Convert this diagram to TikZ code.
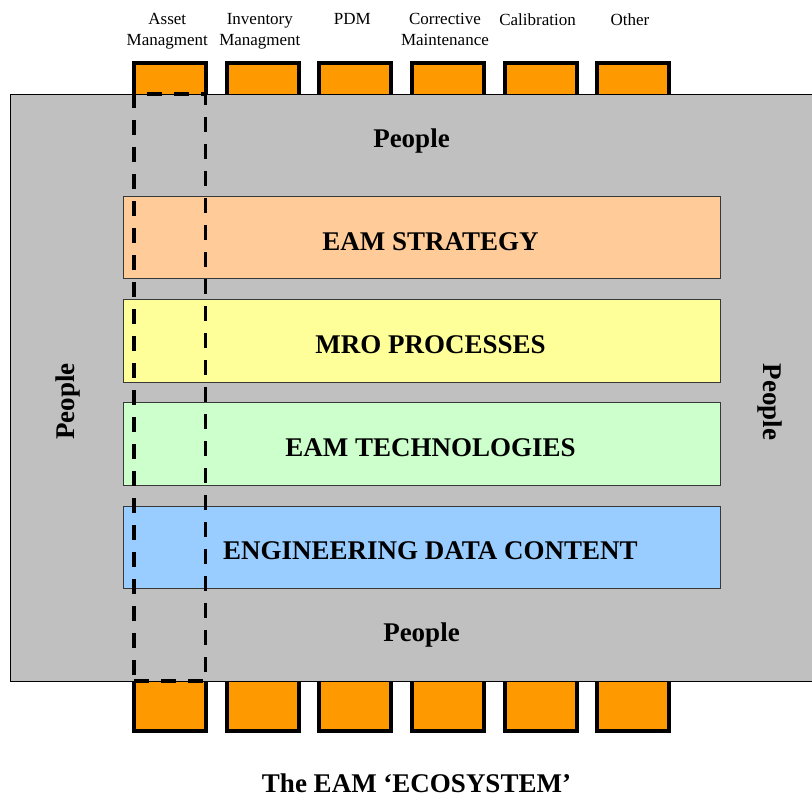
\documentclass[tikz,border=0pt]{standalone}
\usepackage{fontspec}
\setmainfont{Liberation Serif}
\definecolor{tabfill}{HTML}{FF9900}
\definecolor{fieldfill}{HTML}{C0C0C0}
\definecolor{stratfill}{HTML}{FFCC99}
\definecolor{mrofill}{HTML}{FFFF99}
\definecolor{techfill}{HTML}{CCFFCC}
\definecolor{datafill}{HTML}{99CCFF}
\begin{document}
\begin{tikzpicture}[x=1pt,y=-1pt,
  tab/.style={draw=black, line width=4pt, fill=tabfill, minimum width=72pt, inner sep=0pt},
  toptab/.style={tab, minimum height=37.3pt},
  bottab/.style={tab, minimum height=56pt},
  tablabel/.style={anchor=north, inner sep=0pt, align=center,
    font=\fontsize{17}{20.7}\selectfont},
  layer/.style={draw=black!78, line width=1.1pt, minimum width=597pt,
    minimum height=82.5pt, inner sep=0pt},
  layertext/.style={anchor=base, inner sep=0pt, font=\fontsize{27}{32}\selectfont\bfseries},
  people/.style={anchor=base, inner sep=0pt, font=\fontsize{27}{32}\selectfont\bfseries},
  focus/.style={draw=black, line width=3.5pt, dash pattern=on 15pt off 12pt,
    minimum width=71.5pt, minimum height=587pt, inner sep=0pt}]
\useasboundingbox (0,0) rectangle (812,798);
\clip (0,0) rectangle (812,798);

% module tabs above and below the field
\foreach \i/\lbl in {1/{Asset\\Managment},2/{Inventory\\Managment},3/{PDM},
                     4/{Corrective\\Maintenance},5/{Calibration},6/{Other}}{
  \pgfmathsetmacro{\cx}{170.3+92.55*(\i-1)}
  \node[toptab] (top\i) at (\cx,81.35) {};
  \node[bottab] (bot\i) at (\cx,703) {};
  \node[tablabel] (lbl\i) at (\cx-3,13.3) {\lbl};
}

% surrounding "people" field
\node[draw=black, line width=1pt, fill=fieldfill, minimum width=810pt,
      minimum height=587.5pt, inner sep=0pt, anchor=north west] (field) at (10,93.7) {};

% stacked layers
\node[layer, fill=stratfill] (strat) at (422,237.5) {};
\node[layer, fill=mrofill]   (mro)   at (422,340.8) {};
\node[layer, fill=techfill]  (tech)  at (422,444.1) {};
\node[layer, fill=datafill]  (data)  at (422,547.4) {};

\node[layertext] (stratT) at (430.5,250)   {EAM STRATEGY};
\node[layertext] (mroT)   at (430.5,353.3) {MRO PROCESSES};
\node[layertext] (techT)  at (430.5,456.6) {EAM TECHNOLOGIES};
\node[layertext] (dataT)  at (430.5,559.9) {ENGINEERING DATA CONTENT};

% people labels on four sides
\node[people] (pTop)    at (411.5,147.3) {People};
\node[people] (pBottom) at (421.5,641.7) {People};
\node[people, rotate=90]  (pLeft)  at (74,401.5)  {People};
\node[people, rotate=-90] (pRight) at (763.3,402) {People};

% dashed slice through the first module
\node[focus] (slice) at (169.75,387.5) {};

% caption
\node[people, text depth=0pt] (caption) at (416.5,792) {The EAM ‘ECOSYSTEM’};
\end{tikzpicture}
\end{document}
